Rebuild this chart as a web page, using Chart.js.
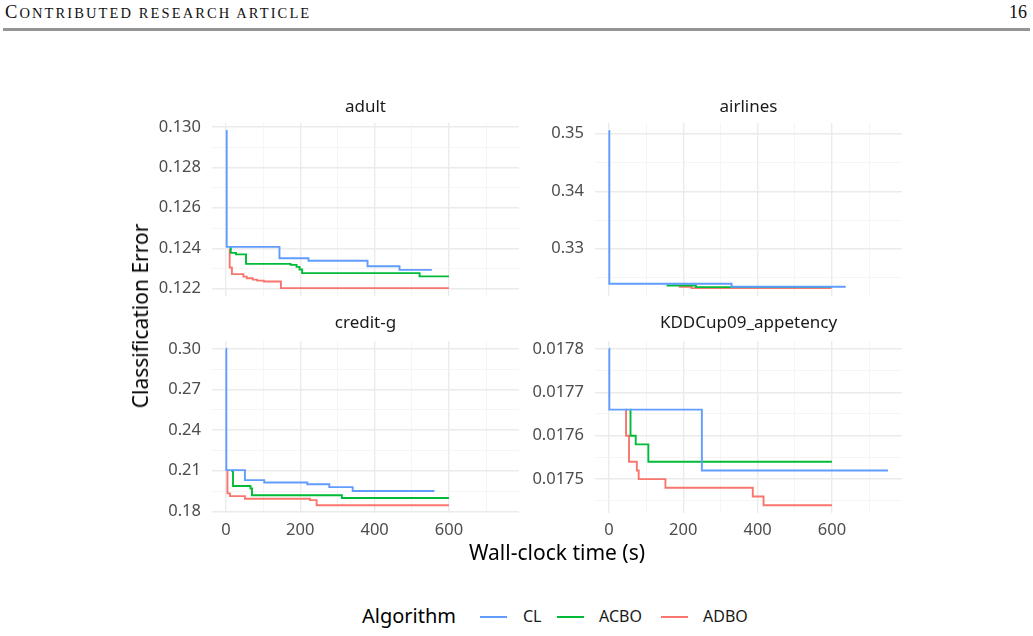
<!DOCTYPE html>
<html>
<head>
<meta charset="utf-8">
<script src="https://cdn.jsdelivr.net/npm/chart.js@4.4.1/dist/chart.umd.min.js"></script>
<style>
  body { margin: 0; background: #fff; width: 1033px; height: 636px; position: relative; overflow: hidden; font-family: "Noto Sans", sans-serif; }
  .abs { position: absolute; white-space: nowrap; }
  canvas { position: absolute; }
  #hdr { left: 5px; top: 2px; font-family: "Liberation Serif", serif; font-size: 18.5px; color: #111; letter-spacing: 2.1px; }
  #hdr small { font-size: 14.5px; }
  #page { right: 6px; top: 2px; font-family: "Liberation Serif", serif; font-size: 18px; color: #111; }
  #rule { left: 3px; top: 28px; width: 1027px; height: 3px; background: #959595; }
  .axt { font-size: 21px; color: #000; transform: translate(-50%, -50%); }
  .sw { height: 2px; width: 27px; top: 616px; }
  .lg { font-size: 16px; color: #1a1a1a; top: 605px; line-height: 22px; }
</style>
</head>
<body>
<div class="abs" id="hdr">C<small>ONTRIBUTED RESEARCH ARTICLE</small></div>
<div class="abs" id="page">16</div>
<div class="abs" id="rule"></div>

<canvas id="c1" width="377" height="219" style="left:142px; top:99px"></canvas>
<canvas id="c2" width="377" height="219" style="left:525px; top:99px"></canvas>
<canvas id="c3" width="377" height="228" style="left:142px; top:315px"></canvas>
<canvas id="c4" width="377" height="228" style="left:525px; top:315px"></canvas>

<div class="abs axt" style="left:140px; top:316px; transform: translate(-50%, -50%) rotate(-90deg);">Classification Error</div>
<div class="abs axt" style="left:557px; top:552px;">Wall-clock time (s)</div>

<div class="abs" style="left:362px; top:603px; font-size:20px; line-height:26px; color:#000;">Algorithm</div>
<div class="abs sw" style="left:480px; background:#619CFF"></div>
<div class="abs lg" style="left:523px">CL</div>
<div class="abs sw" style="left:557px; background:#00BA38"></div>
<div class="abs lg" style="left:599px">ACBO</div>
<div class="abs sw" style="left:661px; background:#F8766D"></div>
<div class="abs lg" style="left:703px">ADBO</div>

<script>
// algorithms and colours
const algorithms = ["CL", "ACBO", "ADBO"];
const colors = ["#619CFF", "#00BA38", "#F8766D"];

// time axis ticks (s)
const timeTicks = [0, 200, 400, 600];

// [time, error] pairs
const adultCL = [[0, 0.1298], [2, 0.12407], [144, 0.12351], [222, 0.12338], [381, 0.12311], [467, 0.12293], [554, 0.12293]];
const adultACBO = [[10, 0.12405], [13, 0.12377], [27, 0.12370], [54, 0.12323], [174, 0.12318], [190, 0.12308], [198, 0.12295], [205, 0.12277], [521, 0.12261], [600, 0.12261]];
const adultADBO = [[9, 0.12395], [10, 0.12305], [16, 0.12272], [47, 0.12260], [56, 0.12252], [72, 0.12245], [84, 0.12240], [102, 0.12236], [148, 0.12203], [600, 0.12203]];
const adultTicks = ["0.122", "0.124", "0.126", "0.128", "0.130"];

const airlinesCL = [[0, 0.3505], [1, 0.32391], [330, 0.32339], [637, 0.32339]];
const airlinesACBO = [[155, 0.32362], [234, 0.32333], [599, 0.32333]];
const airlinesADBO = [[188, 0.32339], [222, 0.32316], [599, 0.32316]];
const airlinesTicks = ["0.33", "0.34", "0.35"];

const creditCL = [[0, 0.300], [1, 0.2105], [51, 0.2031], [103, 0.2013], [219, 0.2001], [278, 0.1979], [341, 0.1951], [561, 0.1951]];
const creditACBO = [[14, 0.2100], [19, 0.1988], [66, 0.1969], [70, 0.1919], [312, 0.1899], [600, 0.1899]];
const creditADBO = [[3, 0.2100], [4, 0.1933], [11, 0.1913], [51, 0.1893], [226, 0.1883], [244, 0.1846], [600, 0.1846]];
const creditTicks = ["0.18", "0.21", "0.24", "0.27", "0.30"];

const kddCL = [[0, 0.01780], [1, 0.01766], [250, 0.01752], [751, 0.01752]];
const kddACBO = [[57, 0.01766], [58, 0.01760], [72, 0.01758], [106, 0.01754], [600, 0.01754]];
const kddADBO = [[45, 0.01766], [46, 0.01760], [54, 0.01754], [75, 0.01752], [80, 0.01750], [152, 0.01748], [387, 0.01746], [416, 0.01744], [600, 0.01744]];
const kddTicks = ["0.0175", "0.0176", "0.0177", "0.0178"];

const panels = [
  { id: "c1", title: "adult", series: [adultCL, adultACBO, adultADBO], ticks: adultTicks, bottom: false },
  { id: "c2", title: "airlines", series: [airlinesCL, airlinesACBO, airlinesADBO], ticks: airlinesTicks, bottom: false },
  { id: "c3", title: "credit-g", series: [creditCL, creditACBO, creditADBO], ticks: creditTicks, bottom: true },
  { id: "c4", title: "KDDCup09_appetency", series: [kddCL, kddACBO, kddADBO], ticks: kddTicks, bottom: true },
];

const font = "'Noto Sans', sans-serif";

// ggplot-style 5% expansion
function expand(vals) {
  let lo = Math.min(...vals), hi = Math.max(...vals);
  let pad = (hi - lo) * 0.05;
  return [lo - pad, hi + pad];
}

// major ticks with labels, minor ticks halfway between
function makeTicks(labels, lo, hi) {
  let majors = labels.map(Number);
  let step = majors[1] - majors[0];
  let out = majors.map((v, i) => ({ value: v, isMajor: true, txt: String(labels[i]) }));
  for (let k = -1; k < majors.length; k++) {
    let m = majors[0] + (k + 0.5) * step;
    if (m >= lo && m <= hi) out.push({ value: m, isMajor: false, txt: "" });
  }
  return out.sort((a, b) => a.value - b.value);
}

let allTimes = panels.flatMap((p) => p.series.flat().map((d) => d[0]));
let [xMin, xMax] = expand(allTimes);

let gridColor = (c) => (c.tick && c.tick.isMajor ? "#ebebeb" : "#f2f2f2");
let gridWidth = (c) => (c.tick && c.tick.isMajor ? 1.4 : 0.8);

panels.forEach((p) => {
  let [yMin, yMax] = expand(p.series.flat().map((d) => d[1]));
  let ctx = document.getElementById(p.id).getContext("2d");
  new Chart(ctx, {
    type: "line",
    data: {
      datasets: p.series.map((s, i) => ({
        label: algorithms[i],
        data: s.map((d) => ({ x: d[0], y: d[1] })),
        borderColor: colors[i],
        borderWidth: 1.9,
        pointRadius: 0,
        stepped: "before",
        fill: false,
      })),
    },
    options: {
      responsive: false,
      animation: false,
      layout: { padding: 0 },
      scales: {
        x: {
          type: "linear",
          min: xMin,
          max: xMax,
          bounds: "data",
          afterBuildTicks: (s) => { s.ticks = makeTicks(timeTicks, xMin, xMax); },
          afterFit: (s) => { s.height = p.bottom ? 30 : 22; },
          grid: { color: gridColor, lineWidth: gridWidth, drawTicks: false },
          border: { display: false },
          ticks: {
            display: p.bottom,
            autoSkip: false,
            maxRotation: 0,
            padding: 7,
            color: "#4d4d4d",
            font: { family: font, size: 16.5 },
            callback: (v, i, ts) => ts[i].txt,
          },
        },
        y: {
          type: "linear",
          min: yMin,
          max: yMax,
          bounds: "data",
          afterBuildTicks: (s) => { s.ticks = makeTicks(p.ticks, yMin, yMax); },
          afterFit: (s) => { s.width = 70; },
          grid: { color: gridColor, lineWidth: gridWidth, drawTicks: false },
          border: { display: false },
          ticks: {
            autoSkip: false,
            padding: 11,
            color: "#4d4d4d",
            font: { family: font, size: 16.5 },
            callback: (v, i, ts) => ts[i].txt,
          },
        },
      },
      plugins: {
        legend: { display: false },
        tooltip: { enabled: false },
        title: {
          display: true,
          fullSize: false,
          text: p.title,
          color: "#1a1a1a",
          font: { family: font, size: 17, weight: "normal", lineHeight: 1 },
          padding: { top: 0, bottom: p.bottom ? 9 : 7 },
        },
      },
    },
  });
});
</script>
</body>
</html>
